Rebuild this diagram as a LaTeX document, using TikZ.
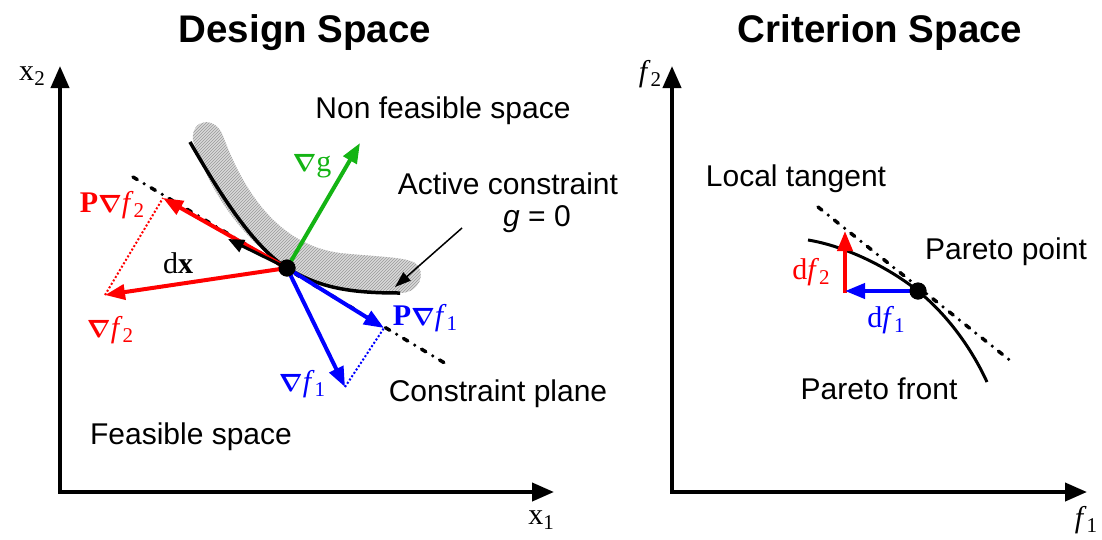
\documentclass[tikz,border=0pt]{standalone}
\usepackage{amsmath}
\usepackage{fontspec}
\setmainfont{Liberation Sans}
\newfontfamily\seriffont{Liberation Serif}
\usetikzlibrary{arrows.meta,patterns}
\newcommand{\sbs}[1]{\raisebox{-0.35ex}{\fontsize{21}{21}\selectfont #1}}
\newcommand{\nab}{$\boldsymbol{\nabla}$}
\begin{document}
\begin{tikzpicture}[x=1pt,y=-1pt,
  axis/.style={line width=4pt,{Triangle[length=22pt,width=18pt]}-{Triangle[length=22pt,width=18pt]}},
  vec/.style={line width=4pt,-{Triangle[length=20pt,width=15pt]}},
  lbl/.style={font=\fontsize{30}{34}\selectfont, inner sep=0pt},
  mlbl/.style={font=\seriffont\fontsize{30}{34}\selectfont, inner sep=0pt},
  ttl/.style={font=\bfseries\fontsize{38.5}{44}\selectfont, inner sep=0pt},
  dashdot/.style={line width=3.5pt, line cap=round, dash pattern=on 5pt off 8pt on 0pt off 8pt},
  dotline/.style={line width=2pt, dotted},
  dot/.style={circle, fill=black, inner sep=0pt, minimum size=17pt},
  curve/.style={line width=3.5pt},
  ptr/.style={line width=1.5pt,-{Triangle[length=16pt,width=11pt]}},
  gcol/.style={color={rgb,255:red,20;green,180;blue,20}}
]
\useasboundingbox (0,0) rectangle (1102,539);

% ---------- titles
\node[ttl] (t1) at (305,33) {Design Space};
\node[ttl] (t2) at (880,33) {Criterion Space};

% ---------- left axes
\coordinate (Y1) at (60,66);
\coordinate (O1) at (60,492);
\coordinate (X1) at (554,492);
\draw[axis] (Y1) -- (O1) -- (X1);
\node[mlbl] (lx2) at (32,76) {x\sbs{2}};
\node[mlbl] (lx1) at (541,520) {x\sbs{1}};

% ---------- right axes
\coordinate (Y2) at (672,66);
\coordinate (O2) at (672,492);
\coordinate (X2) at (1087,492);
\draw[axis] (Y2) -- (O2) -- (X2);
\node[mlbl] (lf2) at (650,74) {\textit{f}\sbs{2}};
\node[mlbl] (lf1) at (1086,520) {\textit{f}\sbs{1}};

% ---------- design space
\fill[gray!30] (193,140) .. controls (191,118) and (216,116) .. (223,136)
  .. controls (245,195) and (280,245) .. (340,253)
  .. controls (380,257) and (405,257) .. (415,263)
  .. controls (427,272) and (420,293) .. (400,293)
  .. controls (350,293) and (320,288) .. (287,268)
  .. controls (250,245) and (212,200) .. (193,140) -- cycle;
\fill[pattern=north east lines, pattern color=gray!80] (193,140) .. controls (191,118) and (216,116) .. (223,136)
  .. controls (245,195) and (280,245) .. (340,253)
  .. controls (380,257) and (405,257) .. (415,263)
  .. controls (427,272) and (420,293) .. (400,293)
  .. controls (350,293) and (320,288) .. (287,268)
  .. controls (250,245) and (212,200) .. (193,140) -- cycle;
\coordinate (pl1) at (133,177);
\coordinate (pl2) at (448,365);
\draw[dashdot] (pl1) -- (pl2);

\node[dot] (P) at (287,268) {};
\coordinate (cs) at (190,142);
\coordinate (ce) at (400,293);
\draw[curve] (cs) .. controls (212,180) and (250,245) .. (P.center)
  .. controls (320,288) and (350,293) .. (ce);

\coordinate (gt) at (360,143);
\coordinate (pf2) at (163,198);
\coordinate (f2t) at (105,295);
\coordinate (dxt) at (228,239);
\coordinate (pf1) at (384,328);
\coordinate (f1t) at (345,387);

\draw[dotline, red] (f2t) -- (pf2);
\draw[dotline, blue] (f1t) -- (pf1);
\draw[vec, gcol] (P.center) -- (gt);
\draw[vec, red] (P.center) -- (pf2);
\draw[vec, red] (P.center) -- (f2t);
\draw[line width=3pt, -{Triangle[length=16pt,width=13pt]}] (P.center) -- (dxt);
\draw[vec, blue] (P.center) -- (pf1);
\draw[vec, blue] (P.center) -- (f1t);
\node[dot] (P2) at (287,268) {};

\node[mlbl, gcol] (lg) at (312,166) {\nab g};
\node[mlbl, red] (lpf2) at (112,205) {\textbf{P}\nab\textit{f}\sbs{2}};
\node[mlbl, red] (lf2v) at (110,330) {\nab\textit{f}\sbs{2}};
\node[mlbl] (ldx) at (178,263) {d\textbf{x}};
\node[mlbl, blue] (lpf1) at (425,318) {\textbf{P}\nab\textit{f}\sbs{1}};
\node[mlbl, blue] (lf1v) at (302,384) {\nab\textit{f}\sbs{1}};

\node[lbl] (nfs) at (443,111) {Non feasible space};
\node[lbl] (ac) at (508,184) {Active constraint};
\node[lbl] (g0) at (537,219) {\textit{g} = 0};
\coordinate (acs) at (462,228);
\coordinate (ace) at (395,287);
\draw[ptr] (acs) -- (ace);
\node[lbl] (cp) at (498,394) {Constraint plane};
\node[lbl] (fs) at (191,437) {Feasible space};

% ---------- criterion space
\coordinate (lt1) at (818,207);
\coordinate (lt2) at (1012,362);
\draw[dashdot] (lt1) -- (lt2);
\node[dot] (PP) at (918,291) {};
\coordinate (fs1) at (808,240);
\coordinate (fe1) at (987,382);
\draw[line width=3pt] (fs1) .. controls (845,246) and (888,267) .. (PP.center)
  .. controls (945,313) and (970,345) .. (fe1);
\coordinate (C) at (845,291);
\coordinate (Cb) at (845,293);
\coordinate (df2t) at (845,231);
\draw[vec, red] (Cb) -- (df2t);
\draw[vec, blue] (PP.center) -- (C);
\node[dot] (PP2) at (918,291) {};

\node[mlbl, red] (ldf2) at (811,272) {d\textit{f}\sbs{2}};
\node[mlbl, blue] (ldf1) at (886,320) {d\textit{f}\sbs{1}};
\node[lbl] (ltg) at (796,179) {Local tangent};
\node[lbl] (ppt) at (1006,252) {Pareto point};
\node[lbl] (pfr) at (879,389) {Pareto front};
\end{tikzpicture}
\end{document}
